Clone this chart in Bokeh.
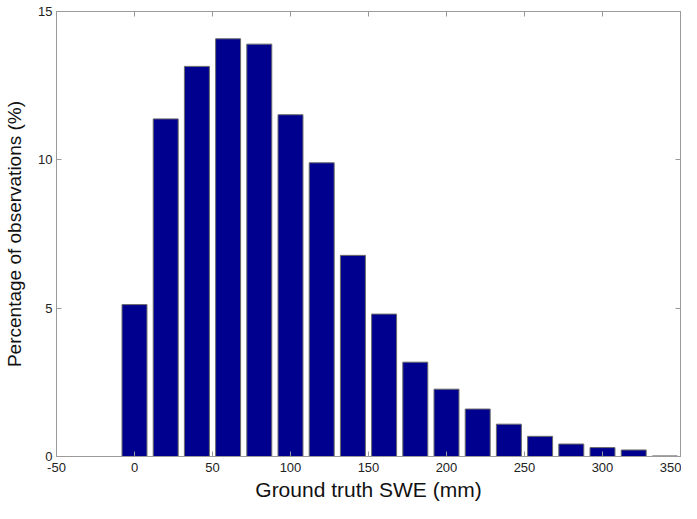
from bokeh.plotting import figure
from bokeh.models import LinearAxis, Range1d, FixedTicker
from bokeh.embed import file_html
from bokeh.resources import INLINE

centers = [0, 20, 40, 60, 80, 100, 120, 140, 160, 180, 200, 220, 240, 260, 280, 300, 320, 340]
percent = [5.12, 11.38, 13.15, 14.08, 13.9, 11.52, 9.9, 6.78, 4.8, 3.18, 2.27, 1.6, 1.09, 0.68, 0.42, 0.3, 0.22, 0.02]
x_ticks = [-50, 0, 50, 100, 150, 200, 250, 300, 350]
x_tick_labels = ["-50", "0", "50", "100", "150", "200", "250", "300", "350"]
y_ticks = [0, 5, 10, 15]
x_label = "Ground truth SWE (mm)"
y_label = "Percentage of observations (%)"

p = figure(width=681, height=503, output_backend="svg", toolbar_location=None,
           x_range=Range1d(-50, 350), y_range=Range1d(0, 15),
           min_border_left=56, min_border_right=1, min_border_top=11, min_border_bottom=40,
           x_axis_location=None, y_axis_location=None)
p.grid.visible = False
p.outline_line_color = "#9a9a9a"
p.outline_line_width = 1

p.vbar(x=centers, top=percent, width=16, bottom=0,
       fill_color="#00008f", line_color="#6a6a6a", line_width=1)

font = "Liberation Sans"

def style(ax, labels=True):
    ax.axis_line_color = "#9a9a9a"
    ax.major_tick_line_color = "#9a9a9a"
    ax.major_tick_in = 5
    ax.major_tick_out = 0
    ax.minor_tick_line_color = None
    ax.major_label_text_font = font
    ax.major_label_text_font_size = "13px"
    ax.major_label_text_color = "#222222"
    ax.axis_label_text_font = font
    ax.axis_label_text_font_size = "19px"
    ax.axis_label_text_font_style = "normal"
    ax.axis_label_text_color = "#111111"
    if not labels:
        ax.major_label_text_font_size = "0px"
        ax.major_label_text_color = None

xb = LinearAxis(ticker=FixedTicker(ticks=x_ticks), axis_label=x_label)
style(xb)
xb.major_label_overrides = {t: s for t, s in zip(x_ticks, x_tick_labels)}
xb.major_label_standoff = 6
xb.axis_label_standoff = 3
xb.axis_label_text_font_size = "21px"
p.add_layout(xb, "below")

yl = LinearAxis(ticker=FixedTicker(ticks=y_ticks), axis_label=y_label)
style(yl)
yl.major_label_standoff = 4
yl.axis_label_standoff = 10
p.add_layout(yl, "left")

xt = LinearAxis(ticker=FixedTicker(ticks=x_ticks))
style(xt, labels=False)
p.add_layout(xt, "above")

yr = LinearAxis(ticker=FixedTicker(ticks=y_ticks))
style(yr, labels=False)
p.add_layout(yr, "right")

open("out.html", "w").write(file_html(p, INLINE))
